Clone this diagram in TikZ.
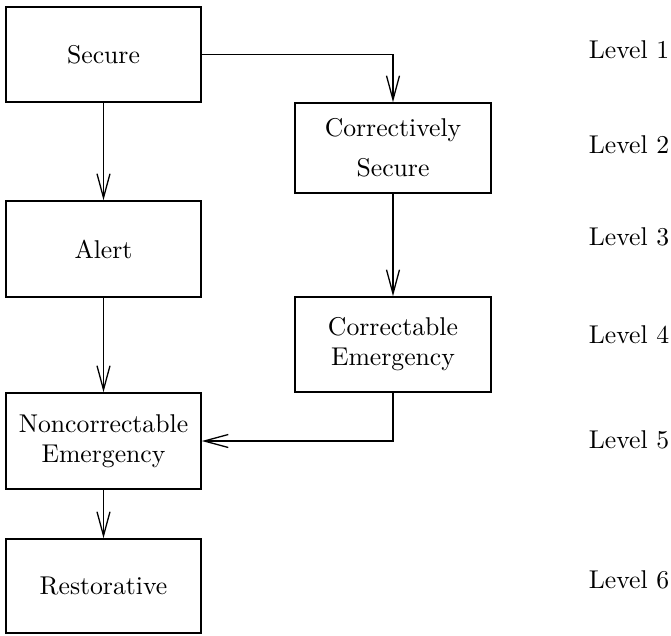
\documentclass[tikz,border=0pt]{standalone}
\usepackage{fontspec}
\setmainfont{lmroman10-regular.otf}
\usetikzlibrary{arrows.meta}
\begin{document}
\begin{tikzpicture}[x=1pt,y=-1pt,
  every node/.style={font=\fontsize{25.7}{30}\selectfont},
  statebox/.style={draw, line width=1.6pt, minimum width=195pt, align=center, inner sep=0pt},
  flow/.style={line width=1.5pt, -{Straight Barb[length=24pt,width=13pt,line width=1.3pt]}},
  levellabel/.style={anchor=center}]
\useasboundingbox (0,0) rectangle (671,635);
\node[statebox, minimum height=95pt] (secure) at (103.5,54.5) {Secure};
\node[statebox, minimum height=96pt] (alert) at (103.5,249) {Alert};
\node[statebox, minimum height=96pt] (nonc) at (103.5,441) {Noncorrectable\\Emergency};
\node[statebox, minimum height=94pt] (rest) at (103.5,586) {Restorative};
\node[statebox, minimum width=196pt, minimum height=90pt] (csec) at (393,148) {Correctively\\[10pt]Secure};
\node[statebox, minimum width=196pt, minimum height=95pt] (cemer) at (393,344.5) {Correctable\\Emergency};

\draw[flow] (secure.south) -- (alert.north);
\draw[flow] (secure.east) -| (csec.north);
\draw[flow] (csec.south) -- (cemer.north);
\draw[flow] (alert.south) -- (nonc.north);
\draw[flow] (cemer.south) |- (nonc.east);
\draw[flow] (nonc.south) -- (rest.north);

\node[levellabel] (l1) at (629,50) {Level 1};
\node[levellabel] (l2) at (629,145) {Level 2};
\node[levellabel] (l3) at (629,237) {Level 3};
\node[levellabel] (l4) at (629,335) {Level 4};
\node[levellabel] (l5) at (629,440) {Level 5};
\node[levellabel] (l6) at (629,580) {Level 6};
\end{tikzpicture}
\end{document}
